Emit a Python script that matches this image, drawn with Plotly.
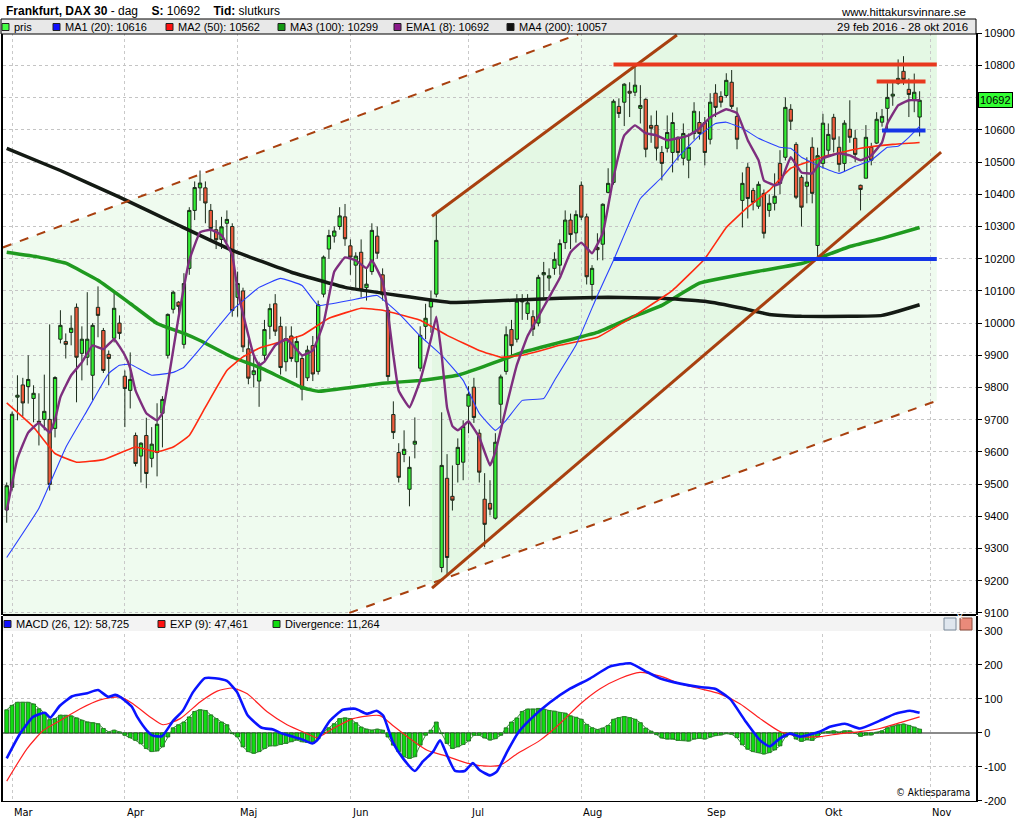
import plotly.graph_objects as go
import pandas as pd

# ---------------- data ----------------
HOLIDAYS = ["2016-03-25", "2016-03-28", "2016-05-16", "2016-10-03"]
trading_days = [d for d in pd.bdate_range("2016-02-29", "2016-10-28")
                if d.strftime("%Y-%m-%d") not in HOLIDAYS]
day_index = list(range(len(trading_days)))

opens = [9420, 9490, 9770, 9808, 9803, 9766, 9695, 9701, 9701, 9673,
         9950, 9943, 9971, 10049, 9906, 9894, 9838, 10049, 9977, 9903,
         9953, 10000, 9835, 9791, 9651, 9587, 9651, 9580, 9598, 9720,
         9900, 10043, 10065, 9934, 10170, 10350, 10420, 10420, 10350, 10290,
         10260, 10310, 10300, 10080, 10100, 9920, 9840, 9820, 9900, 9990,
         10060, 9990, 9880, 9960, 9880, 9890, 9830, 9930, 9850, 10090,
         10230, 10270, 10300, 10330, 10240, 10180, 10220, 10110, 10160, 10270,
         10150, 10040, 9716, 9598, 9592, 9484, 9624, 9860, 9990, 10050,
         10090, 9241, 9518, 9462, 9561, 9568, 9742, 9801, 9658, 9453,
         9440, 9394, 9748, 9850, 9980, 9950, 10070, 10030, 10020, 10000,
         10150, 10140, 10170, 10180, 10250, 10320, 10280, 10428, 10330, 10120,
         10235, 10245, 10406, 10437, 10673, 10686, 10720, 10717, 10667, 10695,
         10614, 10614, 10530, 10543, 10530, 10577, 10512, 10506, 10589, 10623,
         10623, 10571, 10714, 10704, 10707, 10748, 10642, 10381, 10484, 10412,
         10363, 10403, 10350, 10372, 10496, 10515, 10664, 10555, 10453, 10425,
         10546, 10241, 10496, 10537, 10639, 10546, 10496, 10602, 10574, 10428,
         10450, 10546, 10559, 10624, 10667, 10705, 10745, 10782, 10726, 10692,
         10640]
highs = [9505, 9725, 9838, 9830, 9900, 9807, 9782, 9840, 9996, 9835,
         10040, 9968, 10024, 10061, 9990, 10096, 10000, 10114, 9985, 9915,
         10099, 10024, 9853, 9909, 9660, 9630, 9706, 9677, 9751, 9773,
         10030, 10100, 10068, 10155, 10360, 10440, 10474, 10440, 10370, 10320,
         10330, 10350, 10310, 10160, 10110, 9950, 9900, 9880, 10010, 10060,
         10090, 10020, 9990, 9990, 9960, 9900, 9930, 9960, 10070, 10210,
         10290, 10300, 10360, 10370, 10260, 10220, 10260, 10170, 10310, 10300,
         10170, 10050, 9757, 9627, 9667, 9586, 9707, 9990, 10060, 10100,
         10340, 9723, 9593, 9558, 9642, 9698, 9804, 9830, 9670, 9534,
         9512, 9658, 9840, 9990, 10010, 10090, 10090, 10090, 10040, 10150,
         10190, 10170, 10220, 10260, 10350, 10340, 10350, 10440, 10340, 10180,
         10279, 10372, 10481, 10695, 10698, 10745, 10748, 10802, 10739, 10698,
         10645, 10660, 10550, 10645, 10654, 10580, 10620, 10589, 10686, 10658,
         10640, 10714, 10742, 10720, 10776, 10786, 10670, 10468, 10497, 10420,
         10440, 10415, 10400, 10465, 10537, 10701, 10680, 10562, 10460, 10515,
         10577, 10545, 10650, 10620, 10650, 10580, 10630, 10692, 10600, 10430,
         10615, 10560, 10655, 10665, 10745, 10750, 10819, 10829, 10760, 10775,
         10720]
lows = [9380, 9480, 9698, 9710, 9750, 9692, 9620, 9667, 9480, 9645,
        9937, 9890, 9931, 9754, 9822, 9869, 9760, 9956, 9845, 9807,
        9940, 9950, 9677, 9735, 9555, 9505, 9487, 9552, 9524, 9614,
        9890, 10030, 10020, 9921, 10150, 10320, 10380, 10310, 10260, 10230,
        10230, 10250, 10020, 10020, 9910, 9810, 9800, 9740, 9880, 9950,
        9960, 9840, 9850, 9880, 9830, 9760, 9820, 9820, 9840, 10080,
        10200, 10250, 10290, 10240, 10150, 10110, 10080, 10070, 10150, 10200,
        10070, 9820, 9640, 9505, 9568, 9431, 9580, 9850, 9950, 9970,
        10080, 9226, 9217, 9418, 9505, 9512, 9658, 9690, 9505, 9304,
        9403, 9390, 9689, 9840, 9900, 9940, 10010, 10010, 9960, 9990,
        10080, 10100, 10150, 10150, 10230, 10230, 10250, 10320, 10120, 10070,
        10195, 10195, 10403, 10430, 10637, 10612, 10640, 10705, 10620, 10515,
        10560, 10505, 10443, 10530, 10468, 10505, 10490, 10450, 10570, 10570,
        10490, 10555, 10640, 10670, 10700, 10665, 10540, 10297, 10325, 10350,
        10355, 10263, 10330, 10350, 10400, 10505, 10600, 10385, 10300, 10372,
        10372, 10195, 10480, 10520, 10530, 10470, 10470, 10560, 10500, 10350,
        10450, 10490, 10556, 10610, 10602, 10675, 10740, 10740, 10640, 10655,
        10580]
closes = [9495, 9717, 9776, 9752, 9825, 9782, 9692, 9726, 9499, 9831,
          9993, 9934, 9984, 9894, 9950, 9950, 9993, 10024, 9853, 9890,
          10046, 9968, 9797, 9825, 9564, 9627, 9533, 9624, 9686, 9763,
          10027, 10096, 10052, 10123, 10350, 10421, 10435, 10373, 10294, 10259,
          10299, 10322, 10039, 10123, 9926, 9829, 9852, 9870, 9980, 10045,
          9975, 9862, 9952, 9890, 9943, 9795, 9916, 9842, 10057, 10205,
          10272, 10286, 10333, 10262, 10205, 10208, 10103, 10121, 10288, 10217,
          10088, 9834, 9660, 9521, 9608, 9552, 9633, 9962, 10015, 10071,
          10257, 9558, 9272, 9450, 9614, 9679, 9779, 9707, 9537, 9375,
          9422, 9630, 9833, 9964, 9930, 10068, 10066, 10063, 9981, 10142,
          10157, 10147, 10198, 10247, 10320, 10275, 10337, 10329, 10144, 10170,
          10228, 10369, 10434, 10689, 10651, 10742, 10714, 10739, 10676, 10540,
          10605, 10543, 10496, 10592, 10623, 10530, 10589, 10546, 10658, 10589,
          10530, 10686, 10670, 10686, 10754, 10673, 10571, 10434, 10387, 10375,
          10431, 10279, 10372, 10394, 10434, 10670, 10627, 10391, 10360, 10438,
          10403, 10520, 10621, 10586, 10571, 10493, 10621, 10577, 10524, 10415,
          10577, 10506, 10633, 10642, 10701, 10711, 10760, 10757, 10710, 10717,
          10692]

# moving averages (trading-day index, value)
ma1_idx = [0, 6, 11, 15, 19, 21, 23, 27, 31, 33, 37, 42, 47, 51, 55, 58, 64, 69, 73, 77, 81,
           85, 88, 91, 93, 96, 100, 102, 106, 110, 113, 118, 122, 125, 129, 132, 134, 137,
           140, 144, 146, 148, 151, 155, 158, 161, 164, 166, 168, 170]
ma1_val = [9272, 9425, 9614, 9729, 9844, 9869, 9872, 9838, 9847, 9863, 9940, 10040, 10111,
           10139, 10117, 10055, 10071, 10086, 10030, 9960, 9900, 9822, 9720, 9667, 9698,
           9760, 9766, 9822, 9931, 10086, 10195, 10387, 10453, 10515, 10583, 10620, 10624,
           10605, 10574, 10546, 10543, 10515, 10490, 10465, 10487, 10506, 10546, 10549,
           10577, 10611]
ma2_idx = [0, 5, 9, 13, 18, 24, 28, 31, 34, 37, 41, 44, 47, 55, 60, 66, 70, 77, 82, 88, 92,
           96, 103, 110, 117, 124, 130, 134, 138, 142, 146, 153, 159, 165, 170]
ma2_val = [9752, 9677, 9595, 9568, 9576, 9615, 9600, 9615, 9651, 9739, 9853, 9895, 9922,
           9962, 10015, 10046, 10040, 10009, 9962, 9915, 9894, 9900, 9931, 9956, 10024,
           10102, 10200, 10297, 10360, 10412, 10481, 10521, 10543, 10555, 10561]
ma3_idx = [0, 6, 11, 17, 23, 28, 33, 36, 42, 47, 55, 58, 64, 70, 77, 84, 88, 96, 103, 110,
           116, 122, 129, 140, 148, 151, 157, 163, 170]
ma3_val = [10220, 10205, 10186, 10133, 10061, 9999, 9968, 9946, 9894, 9863, 9800, 9788,
           9800, 9813, 9822, 9838, 9860, 9909, 9940, 9971, 10015, 10055, 10124, 10161,
           10185, 10201, 10238, 10263, 10297]
ema1_idx = [0, 2, 4, 6, 8, 9, 10, 12, 14, 16, 18, 20, 22, 23, 24, 26, 28, 29, 30, 32, 34,
            36, 38, 40, 42, 43, 45, 46, 47, 48, 50, 52, 53, 55, 57, 59, 61, 63, 65, 67,
            68, 70, 71, 72, 73, 75, 77, 79, 80, 81, 82, 83, 84, 85, 86, 88, 90, 91, 93,
            95, 97, 99, 101, 103, 105, 107, 109, 111, 113, 115, 117, 119, 121, 123, 125,
            127, 129, 131, 134, 136, 138, 140, 141, 143, 144, 146, 148, 150, 152, 155,
            157, 159, 161, 163, 164, 166, 168, 170]
ema1_val = [9418, 9580, 9660, 9690, 9660, 9700, 9770, 9838, 9878, 9931, 9919, 9950, 9900,
            9860, 9790, 9720, 9698, 9720, 9813, 10018, 10195, 10282, 10290, 10273, 10211,
            10102, 9962, 9900, 9869, 9880, 9931, 9950, 9937, 9900, 9915, 10000, 10160,
            10204, 10195, 10170, 10195, 10130, 10030, 9900, 9790, 9738, 9822, 9950, 10020,
            9900, 9738, 9680, 9667, 9680, 9695, 9645, 9558, 9600, 9738, 9870, 9960, 10020,
            10080, 10140, 10220, 10250, 10217, 10279, 10453, 10583, 10614, 10590, 10583,
            10568, 10574, 10583, 10605, 10639, 10664, 10652, 10568, 10506, 10443, 10428,
            10434, 10515, 10468, 10465, 10512, 10527, 10521, 10506, 10521, 10561, 10620,
            10676, 10692, 10692]
ma4_idx = [0, 10, 21, 32, 42, 53, 63, 73, 83, 94, 103, 112, 122, 130, 137, 142, 148, 157,
           163, 166, 170]
ma4_val = [10543, 10474, 10391, 10304, 10226, 10158, 10111, 10086, 10064, 10071, 10077,
           10080, 10077, 10068, 10046, 10027, 10021, 10021, 10024, 10037, 10057]

# MACD panel
macd_idx = [0, 2.5, 4.9, 7.1, 8.1, 9.9, 12.2, 15, 17, 18.9, 20.2, 21.1, 23.3, 24.3, 26.1,
            27.2, 28.9, 31, 32.8, 34.7, 36.9, 38.8, 41, 42.9, 44.9, 47.5, 49.6, 51.3, 53.3,
            55, 56.9, 57.8, 60.2, 62.6, 64.9, 67.1, 68.9, 70.1, 71.9, 73.8, 76, 77.5, 79.4,
            80.7, 82, 83.5, 85.3, 86.8, 88.1, 90, 91.3, 93.2, 95.2, 97.5, 101.2, 104.9,
            108.6, 112.3, 116.1, 118.9, 121.7, 125.4, 129.1, 131.9, 134.7, 137.5, 140.3,
            142.1, 144, 145.9, 147.7, 151.5, 153.3, 156.1, 158.9, 162.6, 165.4, 168.2, 170]
macd_val = [-75, -2, 47, 59, 45, 80, 108, 117, 126, 106, 112, 106, 77, 47, 7, -8, -10, 36,
            65, 120, 161, 161, 153, 120, 51, 15, 10, -2, -11, -19, -31, -22, 36, 68, 71,
            56, 65, 51, -27, -75, -112, -84, -55, -22, -66, -112, -112, -89, -110, -125,
            -113, -55, 0, 40, 90, 130, 160, 195, 205, 182, 160, 145, 135, 130, 100, 36,
            -22, -40, -16, -2, -11, 4, 18, 27, 13, 36, 56, 65, 59]
signal_idx = [0, 3.8, 6.8, 9.9, 13.7, 17.4, 21.1, 23.5, 26.7, 29.1, 32.3, 36, 39.2, 42.1,
              44.8, 48.5, 52.2, 55.9, 57.8, 60.8, 64.5, 69.5, 71.9, 75.1, 78.3, 82, 85.7,
              89.4, 91.9, 95.2, 99.3, 103, 106.8, 110.5, 114.2, 117.9, 121.7, 125.4, 129.1,
              132.8, 136.6, 140.3, 144, 147.7, 151.5, 155.2, 158.9, 162.6, 166.4, 170]
signal_val = [-142, -46, 7, 36, 71, 97, 106, 86, 47, 24, 42, 91, 123, 132, 115, 62, 24, -2,
              -14, 13, 42, 51, 22, -17, -51, -69, -89, -98, -95, -60, -22, 27, 85, 130, 160,
              178, 167, 145, 130, 115, 85, 42, 4, -11, -11, -2, 4, 13, 30, 47]
divergence = [68, 81, 90, 90, 90, 85, 71, 59, 39, 42, 52, 52, 50, 44, 37, 32, 30, 27, 13, 3,
              8, 3, -7, -14, -22, -32, -46, -55, -53, -41, -12, 15, 24, 32, 47, 63, 68, 66,
              53, 42, 32, 24, -2, -12, -41, -55, -60, -55, -46, -38, -38, -34, -31, -26, -21,
              -26, -28, -26, -17, 3, 15, 27, 42, 44, 42, 30, 17, 11, 8, 11, 8, -12, -36, -55,
              -70, -75, -70, -36, -7, 8, 32, -2, -31, -46, -41, -34, -24, -7, -7, -15, -21,
              -17, -7, 15, 32, 44, 63, 70, 70, 72, 70, 66, 64, 60, 58, 50, 46, 40, 25, 15,
              10, 14, 22, 40, 45, 48, 45, 40, 30, 14, 5, -5, -15, -18, -18, -22, -22, -24,
              -18, -16, -18, -12, -8, -6, -2, -4, -14, -35, -48, -55, -58, -62, -58, -50, -38,
              -12, -2, -18, -25, -20, -22, -12, 2, 4, 6, 2, 6, 6, 0, -10, -6, -6, 2, 6, 15,
              20, 24, 26, 22, 17, 11]

# drawn trend lines: (index, price) end points
channel_outer_upper = [(-0.69, 10235), (106.4, 10897)]
channel_outer_lower = [(63.8, 9100), (172.9, 9757)]
channel_inner_upper = [(79.2, 10332), (124.8, 10895)]
channel_inner_lower = [(79.2, 9177), (174.0, 10531)]
resistance_long = [(113.0, 10803), (173.2, 10803)]
resistance_short = [(162.0, 10750), (171.1, 10750)]
support_long = [(113.0, 10199), (173.2, 10199)]
support_short = [(163.0, 10598), (171.1, 10598)]

month_labels = ["Mar", "Apr", "Maj", "Jun", "Jul", "Aug", "Sep", "Okt", "Nov"]
price_ticks = list(range(9100, 11000, 100))
macd_ticks = [-200, -100, 0, 100, 200, 300]

# ---------------- geometry helpers ----------------
W, H = 1020, 825
ML, MR, MT, MB = 3, 44, 33, 24
PW, PH = W - ML - MR, H - MT - MB


def xp(px):
    return (px - ML) / PW


def yp(py):
    return (H - MB - py) / PH


def extend(line, x):
    (x0, y0), (x1, y1) = line
    return y0 + (y1 - y0) * (x - x0) / (x1 - x0)


def x_at(line, y):
    (x0, y0), (x1, y1) = line
    return x0 + (x1 - x0) * (y - y0) / (y1 - y0)


def poly_path(points):
    return "M " + " L ".join(f"{x},{y}" for x, y in points) + " Z"


month_starts = []
for m in range(3, 11):
    month_starts.append(next(i for i, d in enumerate(trading_days) if d.month == m))
month_starts.append(len(trading_days) + 1)  # 1 Nov (31 Oct is the next day)

XR = [-0.69, 180.5]
YR = [9095, 10901]
Y2R = [-200.4, 344]
fig = go.Figure()

shapes = []
ann = []

# channel background fills (drawn below traces)
xl, xr = -0.69, 173.2
top, bot = YR[1], YR[0]
shapes.append(dict(type="path", xref="x", yref="y", layer="below", line=dict(width=0),
                   fillcolor="#effbef",
                   path=poly_path([(xl, extend(channel_outer_upper, xl)),
                                   (x_at(channel_outer_upper, top), top), (xr, top),
                                   (xr, extend(channel_outer_lower, xr)),
                                   (x_at(channel_outer_lower, bot), bot), (xl, bot)])))
a = channel_inner_upper[0][0]
shapes.append(dict(type="path", xref="x", yref="y", layer="below", line=dict(width=0),
                   fillcolor="#e4f8e4",
                   path=poly_path([(a, extend(channel_inner_upper, a)),
                                   (x_at(channel_inner_upper, top), top), (xr, top),
                                   (xr, extend(channel_inner_lower, xr)),
                                   (a, extend(channel_inner_lower, a))])))

# moving averages
for ix, vals, col, wd in [(ma3_idx, ma3_val, "#1f9a1f", 3.5),
                          (ma4_idx, ma4_val, "#141a14", 3.5),
                          (ma2_idx, ma2_val, "#ff2a10", 1.6),
                          (ma1_idx, ma1_val, "#2a40ff", 1.1),
                          (ema1_idx, ema1_val, "#7e2e7e", 2.4)]:
    fig.add_trace(go.Scatter(x=ix, y=vals, mode="lines",
                             line=dict(color=col, width=wd, shape="spline", smoothing=0.3),
                             hoverinfo="skip", showlegend=False, xaxis="x", yaxis="y"))

BROWN = "#a8400f"
for ln, dash, wd in [(channel_outer_upper, "dash", 2), (channel_outer_lower, "dash", 2),
                     (channel_inner_upper, "solid", 3), (channel_inner_lower, "solid", 3)]:
    fig.add_trace(go.Scatter(x=[p[0] for p in ln], y=[p[1] for p in ln], mode="lines",
                             line=dict(color=BROWN, width=wd, dash=dash),
                             hoverinfo="skip", showlegend=False, xaxis="x", yaxis="y"))
for ln, col in [(resistance_long, "#e8391e"), (resistance_short, "#e8391e"),
                (support_long, "#1434e6"), (support_short, "#1434e6")]:
    fig.add_trace(go.Scatter(x=[p[0] for p in ln], y=[p[1] for p in ln], mode="lines",
                             line=dict(color=col, width=4),
                             hoverinfo="skip", showlegend=False, xaxis="x", yaxis="y"))

fig.add_trace(go.Candlestick(
    x=day_index, open=opens, high=highs, low=lows, close=closes,
    increasing=dict(fillcolor="#33ee33", line=dict(color="#1b2b1b", width=1)),
    decreasing=dict(fillcolor="#ee5a3c", line=dict(color="#1b2b1b", width=1)),
    whiskerwidth=0, showlegend=False, hoverinfo="skip", xaxis="x", yaxis="y"))

# MACD panel
fig.add_trace(go.Bar(x=day_index, y=divergence, width=0.72,
                     marker=dict(color="#11dd11", line=dict(color="#0b5e0b", width=0.8)),
                     hoverinfo="skip", showlegend=False, xaxis="x2", yaxis="y2"))
fig.add_trace(go.Scatter(x=day_index, y=divergence, mode="lines",
                         line=dict(color="#2f8f2f", width=1),
                         hoverinfo="skip", showlegend=False, xaxis="x2", yaxis="y2"))
fig.add_trace(go.Scatter(x=signal_idx, y=signal_val, mode="lines",
                         line=dict(color="#ff2020", width=1.2, shape="spline", smoothing=0.6),
                         hoverinfo="skip", showlegend=False, xaxis="x2", yaxis="y2"))
fig.add_trace(go.Scatter(x=macd_idx, y=macd_val, mode="lines",
                         line=dict(color="#0a14ff", width=2.6, shape="spline", smoothing=0.5),
                         hoverinfo="skip", showlegend=False, xaxis="x2", yaxis="y2"))

FONT = "Liberation Sans, Arial, sans-serif"
NARROW = "Liberation Sans Narrow, DejaVu Sans Condensed, Arial Narrow, sans-serif"

grid_x = dict(showgrid=True, gridcolor="#c9c9c9", griddash="3px,3px", gridwidth=1,
              tickvals=month_starts, showticklabels=False, ticks="", zeroline=False,
              range=XR, automargin=False)
yax_common = dict(side="right", ticks="outside", ticklen=4, tickcolor="black", showline=True,
                  linecolor="black", linewidth=2, mirror=True, showgrid=True,
                  gridcolor="#c4c4c4", griddash="dot", automargin=False,
                  tickfont=dict(size=11, family=FONT))
# the 10700 label sits behind the last-price box in the reference
price_ticktext = ["" if v == 10700 else str(v) for v in price_ticks]
fig.update_layout(
    width=W, height=H, margin=dict(l=ML, r=MR, t=MT, b=MB, autoexpand=False),
    paper_bgcolor="white", plot_bgcolor="white", hovermode=False, boxgap=0.12,
    showlegend=False, font=dict(family=FONT, size=11, color="black"),
    xaxis=dict(domain=[0, 1], anchor="y", showline=False, rangeslider=dict(visible=False),
               **grid_x),
    xaxis2=dict(domain=[0, 1], anchor="y2", matches="x", showline=True, linecolor="black",
                linewidth=1, **grid_x),
    yaxis=dict(domain=[yp(614.5), 1], range=YR, tickvals=price_ticks, ticktext=price_ticktext,
               zeroline=False, **yax_common),
    yaxis2=dict(domain=[0, yp(616)], range=Y2R, tickvals=macd_ticks,
                ticktext=[str(v) for v in macd_ticks],
                zeroline=True, zerolinecolor="#8a8a8a", zerolinewidth=2, **yax_common),
)

# top legend bar
shapes.append(dict(type="rect", xref="paper", yref="paper", x0=xp(1), x1=xp(976),
                   y0=yp(34), y1=yp(19), fillcolor="#e8e8e8", line=dict(color="black", width=1)))
# panel separator and MACD legend bar
shapes.append(dict(type="rect", xref="paper", yref="paper", x0=0, x1=1, y0=yp(631), y1=yp(616),
                   fillcolor="#f3f3f3", line=dict(width=0), layer="above"))
shapes.append(dict(type="line", xref="paper", yref="paper", x0=0, x1=1, y0=yp(615), y1=yp(615),
                   line=dict(color="black", width=2)))

legend_items = [
    (2, "#44ff44", "pris"),
    (53, "#1010ff", "MA1 (20): 10616"),
    (166, "#ff1010", "MA2 (50): 10562"),
    (278, "#119911", "MA3 (100): 10299"),
    (394, "#8a1a8a", "EMA1 (8): 10692"),
    (507, "#111111", "MA4 (200): 10057"),
]
for x0, col, txt in legend_items:
    shapes.append(dict(type="rect", xref="paper", yref="paper", x0=xp(x0), x1=xp(x0 + 7),
                       y0=yp(30.5), y1=yp(23.5), fillcolor=col, line=dict(color="#222", width=1)))
    ann.append(dict(xref="paper", yref="paper", x=xp(x0 + 10), y=yp(27), text=txt,
                    showarrow=False, xanchor="left", yanchor="middle",
                    font=dict(size=11, family=FONT)))
ann.append(dict(xref="paper", yref="paper", x=xp(970), y=yp(27),
                text="29 feb 2016 - 28 okt 2016", showarrow=False, xanchor="right",
                yanchor="middle", font=dict(size=11.5, family=FONT)))
ann.append(dict(xref="paper", yref="paper", x=xp(4), y=yp(11),
                text="<b>Frankfurt, DAX 30</b> - dag &nbsp;&nbsp; <b>S:</b> 10692 &nbsp;&nbsp; <b>Tid:</b> slutkurs",
                showarrow=False, xanchor="left", yanchor="middle",
                font=dict(size=12, family=FONT)))
ann.append(dict(xref="paper", yref="paper", x=xp(968), y=yp(12),
                text="www.hittakursvinnare.se", showarrow=False, xanchor="right",
                yanchor="middle", font=dict(size=11.5, family=FONT)))

macd_items = [(3, "#1010ff", "MACD (26, 12): 58,725"), (157, "#ff1010", "EXP (9): 47,461"),
              (272, "#11dd11", "Divergence: 11,264")]
for x0, col, txt in macd_items:
    shapes.append(dict(type="rect", xref="paper", yref="paper", x0=xp(x0 + 1), x1=xp(x0 + 8),
                       y0=yp(627.5), y1=yp(620.5), fillcolor=col,
                       line=dict(color="#222", width=1)))
    ann.append(dict(xref="paper", yref="paper", x=xp(x0 + 11), y=yp(624), text=txt,
                    showarrow=False, xanchor="left", yanchor="middle",
                    font=dict(size=11, family=FONT)))
# small panel icons
shapes.append(dict(type="rect", xref="paper", yref="paper", x0=xp(944), x1=xp(956),
                   y0=yp(630), y1=yp(618), fillcolor="#dfe6ee", line=dict(color="#7a8a9a", width=1)))
shapes.append(dict(type="rect", xref="paper", yref="paper", x0=xp(960), x1=xp(972),
                   y0=yp(630), y1=yp(618), fillcolor="#e98a7a", line=dict(color="#8a4a3a", width=1)))
ann.append(dict(xref="paper", yref="paper", x=xp(966), y=yp(624), text="✕", showarrow=False,
                font=dict(size=9, color="white", family=FONT)))

ann.append(dict(xref="paper", yref="paper", x=xp(972), y=yp(792), text="© Aktiesparama",
                showarrow=False, xanchor="right", yanchor="middle",
                font=dict(size=10, family=NARROW)))

# current price box
ann.append(dict(xref="paper", yref="y", x=1, y=closes[-1], xshift=2, text=str(closes[-1]),
                showarrow=False, xanchor="left", yanchor="middle", bgcolor="#33ff33",
                bordercolor="black", borderwidth=1, borderpad=1,
                font=dict(size=11, family=FONT)))

for m, lab in zip(month_starts, month_labels):
    ann.append(dict(xref="x2", yref="paper", x=m, y=yp(812), text=lab, showarrow=False,
                    xanchor="left", yanchor="middle", font=dict(size=11, family=NARROW)))

fig.update_layout(shapes=shapes, annotations=ann)
fig.write_html("out.html", config={"displayModeBar": False},
               post_script="document.body.style.margin='0';document.body.style.padding='0';")
